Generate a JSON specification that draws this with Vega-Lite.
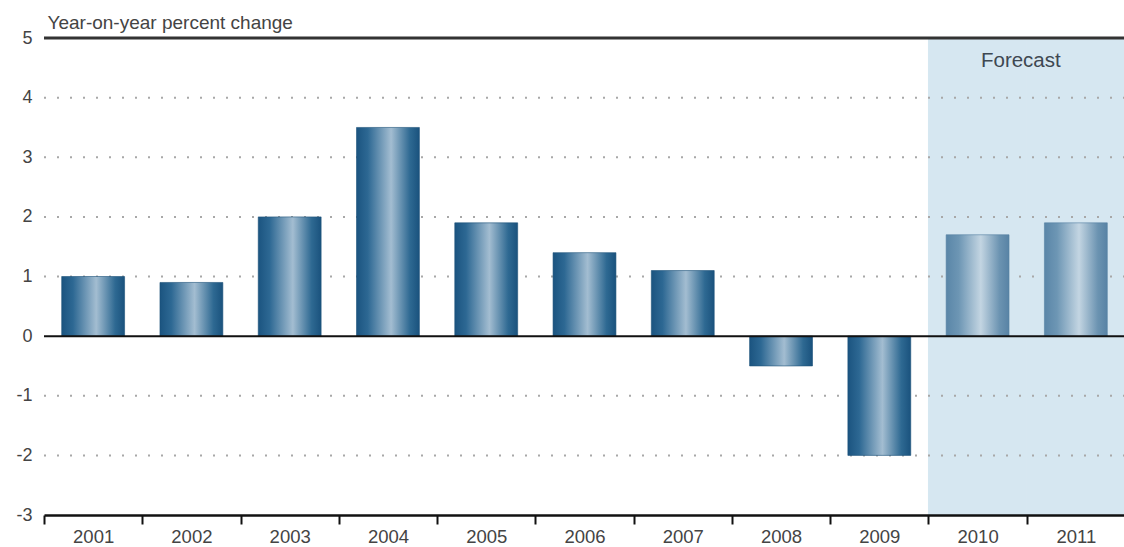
{
  "$schema": "https://vega.github.io/schema/vega-lite/v6.json",
  "width": 1081,
  "height": 477,
  "autosize": {"type": "none"},
  "padding": {"left": 44, "top": 38, "right": 0, "bottom": 32},
  "background": "white",
  "datasets": {
    "growth": [
      {"year": "2001", "value": 1.0, "forecast": false},
      {"year": "2002", "value": 0.9, "forecast": false},
      {"year": "2003", "value": 2.0, "forecast": false},
      {"year": "2004", "value": 3.5, "forecast": false},
      {"year": "2005", "value": 1.9, "forecast": false},
      {"year": "2006", "value": 1.4, "forecast": false},
      {"year": "2007", "value": 1.1, "forecast": false},
      {"year": "2008", "value": -0.5, "forecast": false},
      {"year": "2009", "value": -2.0, "forecast": false},
      {"year": "2010", "value": 1.7, "forecast": true},
      {"year": "2011", "value": 1.9, "forecast": true}
    ],
    "gridLevels": [
      {"level": -2}, {"level": -1}, {"level": 1}, {"level": 2}, {"level": 3}, {"level": 4}
    ],
    "single": [{"note": "Forecast"}]
  },
  "data": {"name": "growth"},
  "config": {
    "view": {"stroke": null},
    "font": "Liberation Sans"
  },
  "layer": [
    {
      "transform": [{"filter": "datum.forecast"}],
      "mark": {"type": "rect", "color": "#d6e7f1", "stroke": "#d6e7f1", "strokeWidth": 1},
      "encoding": {
        "x": {
          "field": "year",
          "type": "ordinal",
          "scale": {
            "type": "band",
            "domain": ["2001", "2002", "2003", "2004", "2005", "2006", "2007", "2008", "2009", "2010", "2011"],
            "paddingInner": 0,
            "paddingOuter": 0
          },
          "axis": {
            "title": null,
            "labelAngle": 0,
            "labelFontSize": 18.5,
            "labelColor": "#444444",
            "labelPadding": 3,
            "tickBand": "extent",
            "tickSize": 9,
            "tickWidth": 2,
            "tickColor": "#111111",
            "domainColor": "#111111",
            "domainWidth": 2.5,
            "grid": false
          }
        },
        "y": {
          "datum": 5,
          "type": "quantitative",
          "scale": {"domain": [-3, 5], "nice": false, "zero": false},
          "axis": {
            "title": "Year-on-year percent change",
            "titleAngle": 0,
            "titleAlign": "left",
            "titleBaseline": "alphabetic",
            "titleX": 3,
            "titleY": -10,
            "titleFontSize": 19,
            "titleFontWeight": "normal",
            "titleColor": "#444444",
            "values": [-3, -2, -1, 0, 1, 2, 3, 4, 5],
            "labelExpr": "'' + datum.value",
            "grid": false,
            "domain": false,
            "ticks": false,
            "labelPadding": 12,
            "labelFontSize": 18,
            "labelColor": "#444444"
          }
        },
        "y2": {"datum": -3}
      }
    },
    {
      "data": {"name": "gridLevels"},
      "mark": {"type": "rule", "color": "#a8a8a8", "strokeWidth": 2, "strokeDash": [2, 11]},
      "encoding": {
        "y": {"field": "level", "type": "quantitative"}
      }
    },
    {
      "transform": [{"filter": "!datum.forecast"}],
      "mark": {
        "type": "bar",
        "width": {"band": 0.64},
        "stroke": "#1b5179",
        "strokeWidth": 0.6,
        "color": {
          "gradient": "linear",
          "x1": 0, "y1": 0, "x2": 1, "y2": 0,
          "stops": [
            {"offset": 0, "color": "#1b5480"},
            {"offset": 0.18, "color": "#2d6893"},
            {"offset": 0.55, "color": "#a3bdd1"},
            {"offset": 0.85, "color": "#2e6992"},
            {"offset": 1, "color": "#1a527d"}
          ]
        }
      },
      "encoding": {
        "x": {"field": "year", "type": "ordinal"},
        "y": {"field": "value", "type": "quantitative"}
      }
    },
    {
      "transform": [{"filter": "datum.forecast"}],
      "mark": {
        "type": "bar",
        "width": {"band": 0.64},
        "stroke": "#5681a2",
        "strokeWidth": 0.6,
        "color": {
          "gradient": "linear",
          "x1": 0, "y1": 0, "x2": 1, "y2": 0,
          "stops": [
            {"offset": 0, "color": "#5a86a8"},
            {"offset": 0.2, "color": "#6d96b4"},
            {"offset": 0.55, "color": "#c3d5e2"},
            {"offset": 0.85, "color": "#6b93b1"},
            {"offset": 1, "color": "#5883a5"}
          ]
        }
      },
      "encoding": {
        "x": {"field": "year", "type": "ordinal"},
        "y": {"field": "value", "type": "quantitative"}
      }
    },
    {
      "data": {"name": "single"},
      "mark": {"type": "rule", "color": "#111111", "strokeWidth": 2},
      "encoding": {"y": {"datum": 0}}
    },
    {
      "data": {"name": "single"},
      "mark": {"type": "rule", "color": "#333333", "strokeWidth": 3},
      "encoding": {"y": {"datum": 5}}
    },
    {
      "data": {"name": "single"},
      "mark": {
        "type": "text",
        "fontSize": 20.5,
        "color": "#3e4852",
        "align": "center",
        "baseline": "middle"
      },
      "encoding": {
        "text": {"field": "note"},
        "x": {"datum": "2010", "type": "ordinal", "bandPosition": 0.94},
        "y": {"datum": 4.62}
      }
    }
  ]
}
